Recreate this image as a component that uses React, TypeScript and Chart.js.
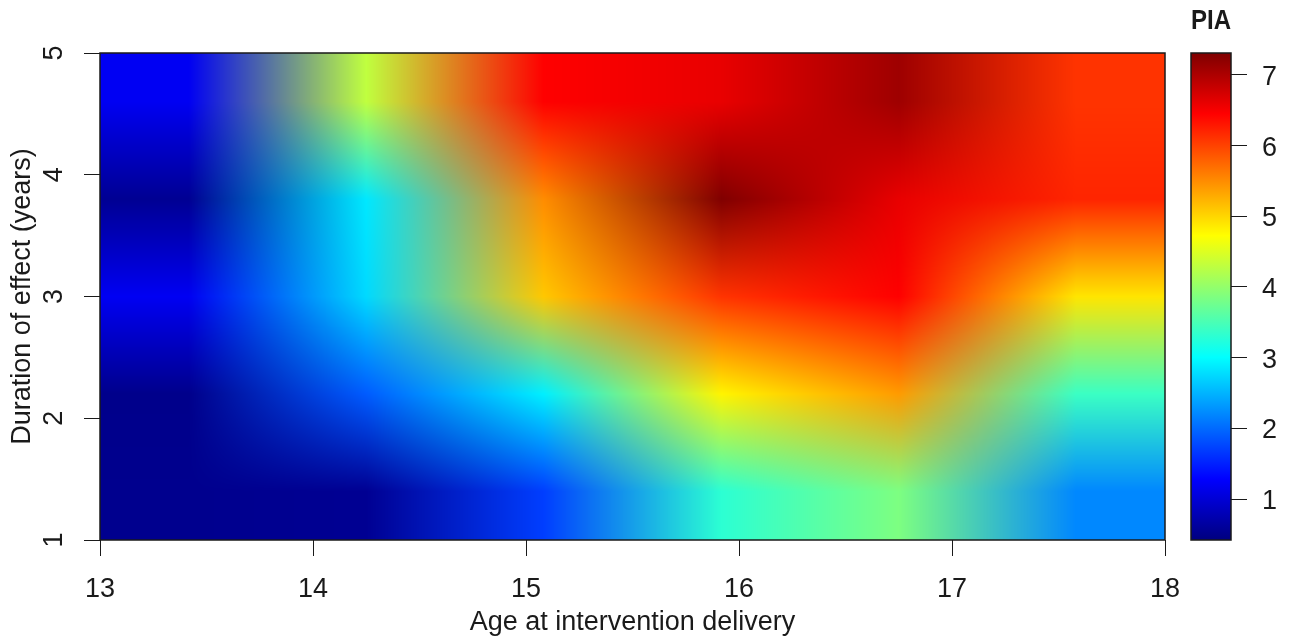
import React, { useEffect, useRef } from "react";
import { Chart, registerables } from "chart.js";

Chart.register(...registerables);

const ages = [13.417, 14.25, 15.083, 15.917, 16.75, 17.583];
const durations = [1.4, 2.2, 3.0, 3.8, 4.6];
const pia1_4 = [0.52, 0.55, 1.7, 3.3, 3.85, 2.2];
const pia2_2 = [0.5, 1.9, 2.9, 4.8, 5.4, 3.4];
const pia3_0 = [1.2, 2.75, 5.1, 6.1, 6.45, 4.9];
const pia3_8 = [0.55, 2.85, 5.5, 7.3, 6.6, 6.2];
const pia4_6 = [1.2, 4.3, 6.45, 6.6, 7.1, 6.1];
const piaRows = [pia1_4, pia2_2, pia3_0, pia3_8, pia4_6];
const xTicks = [13, 14, 15, 16, 17, 18];
const yTicks = [1, 2, 3, 4, 5];
const barTicks = [1, 2, 3, 4, 5, 6, 7];
const piaMin = 0.42;
const piaMax = 7.31;
const jet = [
  [0, 0, 127],
  [0, 0, 255],
  [0, 127, 255],
  [0, 255, 255],
  [127, 255, 127],
  [255, 255, 0],
  [255, 127, 0],
  [255, 0, 0],
  [127, 0, 0],
];

const FONT = "'Liberation Sans', Arial, sans-serif";
const INK = "#1a1a1a";
const SIZE = 27;

function colorOf(v: number) {
  const t = Math.max(0, Math.min(1, (v - piaMin) / (piaMax - piaMin))) * (jet.length - 1);
  const i = Math.min(jet.length - 2, Math.floor(t));
  const f = t - i;
  return [0, 1, 2].map((k) => jet[i][k] + (jet[i + 1][k] - jet[i][k]) * f);
}

const heatPlugin = {
  id: "heat",
  beforeDatasetsDraw(chart: any) {
    const { ctx, chartArea: a, scales } = chart;
    const w = Math.round(a.right - a.left);
    const h = Math.round(a.bottom - a.top);
    const img = ctx.createImageData(w, h);
    const xs = ages.map((v) => scales.x.getPixelForValue(v));
    const ys = durations.map((v) => scales.y.getPixelForValue(v));
    const cols = piaRows.map((r) => r.map(colorOf));
    const locate = (nodes: number[], p: number, desc: boolean) => {
      const n = nodes.length;
      for (let i = 0; i < n - 1; i++) {
        const a0 = nodes[i];
        const a1 = nodes[i + 1];
        const inside = desc ? p <= a0 && p >= a1 : p >= a0 && p <= a1;
        if (inside) return [i, (p - a0) / (a1 - a0)];
      }
      const before = desc ? p > nodes[0] : p < nodes[0];
      return before ? [0, 0] : [n - 2, 1];
    };
    for (let py = 0; py < h; py++) {
      const [j, fy] = locate(ys, py + a.top + 0.5, true);
      for (let px = 0; px < w; px++) {
        const [i, fx] = locate(xs, px + a.left + 0.5, false);
        const o = (py * w + px) * 4;
        for (let k = 0; k < 3; k++) {
          const lo = cols[j][i][k] * (1 - fx) + cols[j][i + 1][k] * fx;
          const hi = cols[j + 1][i][k] * (1 - fx) + cols[j + 1][i + 1][k] * fx;
          img.data[o + k] = lo * (1 - fy) + hi * fy;
        }
        img.data[o + 3] = 255;
      }
    }
    ctx.putImageData(img, Math.round(a.left), Math.round(a.top));
    ctx.save();
    ctx.strokeStyle = INK;
    ctx.lineWidth = 1.5;
    ctx.strokeRect(a.left, a.top, a.right - a.left, a.bottom - a.top);
    ctx.restore();
  },
};

const barPlugin = {
  id: "colorbar",
  beforeDatasetsDraw(chart: any) {
    const { ctx, chartArea: a } = chart;
    const s = chart.scales.y;
    const g = ctx.createLinearGradient(0, s.getPixelForValue(piaMin), 0, s.getPixelForValue(piaMax));
    jet.forEach((c, i) => g.addColorStop(i / (jet.length - 1), `rgb(${c[0]},${c[1]},${c[2]})`));
    ctx.save();
    ctx.fillStyle = g;
    ctx.fillRect(a.left, a.top, a.right - a.left, a.bottom - a.top);
    ctx.strokeStyle = INK;
    ctx.lineWidth = 1.5;
    ctx.strokeRect(a.left, a.top, a.right - a.left, a.bottom - a.top);
    ctx.restore();
  },
};

export default function App() {
  const mainRef = useRef<HTMLCanvasElement>(null);
  const barRef = useRef<HTMLCanvasElement>(null);

  useEffect(() => {
    document.body.style.margin = "0";
    document.body.style.background = "#ffffff";
    const points = durations.flatMap((d, j) => ages.map((x, i) => ({ x, y: d, v: piaRows[j][i] })));
    const main = new Chart(mainRef.current as HTMLCanvasElement, {
      type: "scatter",
      data: { datasets: [{ label: "PIA", data: points, pointRadius: 0 }] },
      plugins: [heatPlugin],
      options: {
        animation: false,
        responsive: false,
        layout: { padding: { left: 0, top: 53, right: 127, bottom: 0 } },
        plugins: { legend: { display: false }, tooltip: { enabled: false } },
        scales: {
          x: {
            type: "linear",
            min: 13,
            max: 18,
            afterBuildTicks: (s: any) => { s.ticks = xTicks.map((value) => ({ value })); },
            afterFit: (s: any) => { s.height = 96; },
            border: { display: false },
            grid: { drawOnChartArea: false, drawTicks: true, tickLength: 16, color: INK, lineWidth: 1 },
            ticks: { color: INK, font: { family: FONT, size: SIZE }, padding: 17, maxRotation: 0, autoSkip: false },
            title: {
              display: true,
              text: "Age at intervention delivery",
              color: INK,
              font: { family: FONT, size: SIZE },
              padding: { top: 0, bottom: -3 },
            },
          },
          y: {
            type: "linear",
            min: 1,
            max: 5,
            afterBuildTicks: (s: any) => { s.ticks = yTicks.map((value) => ({ value })); },
            afterFit: (s: any) => { s.width = 100; },
            border: { display: false },
            grid: { drawOnChartArea: false, drawTicks: true, tickLength: 16, color: INK, lineWidth: 1 },
            ticks: { color: INK, font: { family: FONT, size: SIZE }, padding: 22, minRotation: 90, maxRotation: 90, autoSkip: false, align: "center", crossAlign: "center" },
            title: {
              display: true,
              text: "Duration of effect (years)",
              color: INK,
              font: { family: FONT, size: SIZE },
              padding: { top: 6, bottom: 0 },
            },
          },
        },
      },
    } as any);
    const bar = new Chart(barRef.current as HTMLCanvasElement, {
      type: "scatter",
      data: { datasets: [{ label: "PIA", data: barTicks.map((v) => ({ x: 0, y: v })), pointRadius: 0 }] },
      plugins: [barPlugin],
      options: {
        animation: false,
        responsive: false,
        layout: { padding: { left: 1191, top: 0, right: 0, bottom: 96 } },
        plugins: {
          legend: { display: false },
          tooltip: { enabled: false },
          title: {
            display: true,
            text: "PIA",
            color: INK,
            fullSize: false,
            font: { family: FONT, size: 28, weight: "bold" },
            padding: { top: 4, bottom: 15.4 },
          },
        },
        scales: {
          x: { display: false, min: 0, max: 1 },
          y: {
            type: "linear",
            position: "right",
            min: piaMin,
            max: piaMax,
            afterBuildTicks: (s: any) => { s.ticks = barTicks.map((value) => ({ value })); },
            afterFit: (s: any) => { s.width = 61; },
            border: { display: false },
            grid: { drawOnChartArea: false, drawTicks: true, tickLength: 16, color: INK, lineWidth: 1 },
            ticks: {
              color: INK,
              font: { family: FONT, size: SIZE, lineHeight: 0.2 },
              padding: 15,
              autoSkip: false,
              callback: (v: number) => ["", String(v)],
            },
          },
        },
      },
    } as any);
    return () => {
      main.destroy();
      bar.destroy();
    };
  }, []);

  return (
    <div style={{ position: "relative", width: 1292, height: 636, background: "#fff" }}>
      <canvas ref={mainRef} width={1292} height={636} style={{ position: "absolute", left: 0, top: 0 }} />
      <canvas ref={barRef} width={1292} height={636} style={{ position: "absolute", left: 0, top: 0 }} />
    </div>
  );
}
